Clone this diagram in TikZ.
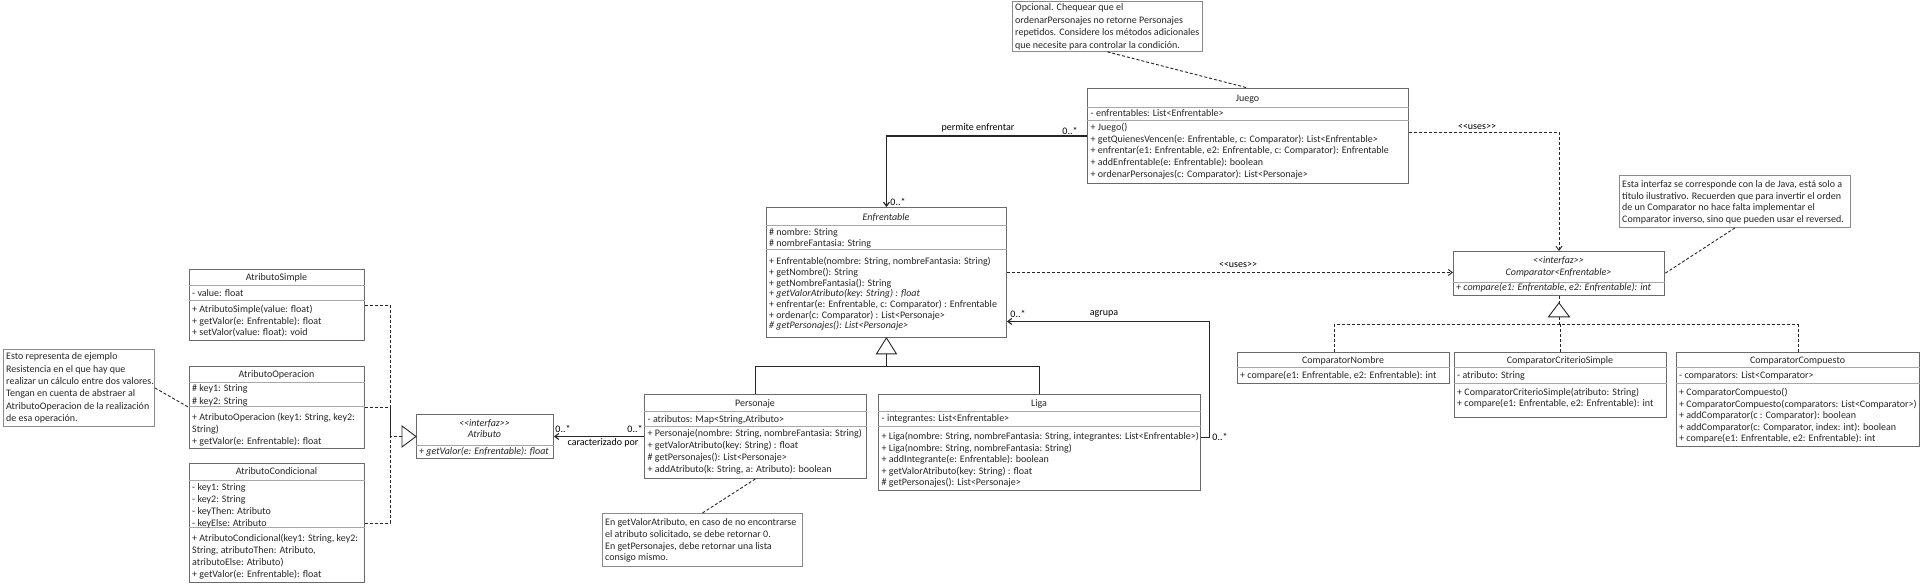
\documentclass[tikz,border=0pt]{standalone}
\usepackage{fontspec}
\setmainfont{Carlito}[Ligatures=TeXOff]
\usetikzlibrary{arrows.meta,calc}
\definecolor{boxline}{HTML}{6A6A6A}
\definecolor{sepcol}{HTML}{A8A8A8}
\definecolor{txtcol}{HTML}{262626}
\definecolor{notecol}{HTML}{8A8A8A}
\newcommand\ustrut{\rule{0pt}{8pt}}
\newcommand\ubox[6]{\node[#1, minimum width={(#5-#3)*1pt}, minimum height={(#6-#4)*1pt}] (#2) at (#3,#4) {};}
\newcommand\usep[2]{\draw[sepline] ([yshift=-#2pt]#1.north west) -- ([yshift=-#2pt]#1.north east);}
\tikzset{
  classbox/.style={draw=boxline, line width=0.9pt, fill=white, inner sep=0pt, anchor=north west},
  notebox/.style={draw=notecol, line width=0.9pt, fill=white, inner sep=0pt, anchor=north west},
  sepline/.style={draw=sepcol, line width=0.9pt},
  txtblock/.style={inner sep=0pt, anchor=north west, align=left, text=txtcol, font=\fontsize{10}{#1}\selectfont},
  ctrblock/.style={inner sep=0pt, anchor=north, align=center, text=txtcol, font=\fontsize{10}{#1}\selectfont},
  ttl/.style={inner sep=0pt, anchor=base, text=txtcol, font=\fontsize{10}{12}\selectfont},
  lbl/.style={inner sep=0pt, text=black, font=\fontsize{10}{12}\selectfont},
  assoc/.style={draw=black!85, line width=1.1pt, -{Straight Barb[length=4pt,width=6pt]}},
  plainline/.style={draw=black!85, line width=1.1pt},
  uses/.style={draw=black!85, line width=0.9pt, dash pattern=on 3pt off 2pt, -{Straight Barb[length=4pt,width=6pt]}},
  realiz/.style={draw=black!85, line width=0.9pt, dash pattern=on 3pt off 2pt},
  notelink/.style={draw=black!85, line width=0.9pt, dash pattern=on 3pt off 2pt},
  tri/.style={draw=black!85, line width=0.9pt, fill=white},
}
\begin{document}
\begin{tikzpicture}[x=1pt,y=-1pt]
\useasboundingbox (0,0) rectangle (1920,586);
\fill[white] (0,0) rectangle (1920,586);

% ---------- notes ----------
\ubox{notebox}{ntop}{1012}{1}{1202}{51}
\node[txtblock=12.5] (ntop-t) at (1015,2.5) {\ustrut Opcional. Chequear que el\\ordenarPersonajes no retorne Personajes\\repetidos. Considere los métodos adicionales\\que necesite para controlar la condición.};

\ubox{notebox}{nright}{1619}{175}{1850}{227}
\node[txtblock=11.5] (nright-t) at (1622,179.5) {\ustrut Esta interfaz se corresponde con la de Java, está solo a\\título ilustrativo. Recuerden que para invertir el orden\\de un Comparator no hace falta implementar el\\Comparator inverso, sino que pueden usar el reversed.};

\ubox{notebox}{nleft}{3}{349}{154}{426}
\node[txtblock=12.4] (nleft-t) at (6,351.5) {\ustrut Esto representa de ejemplo\\Resistencia en el que hay que\\realizar un cálculo entre dos valores.\\Tengan en cuenta de abstraer al\\AtributoOperacion de la realización\\de esa operación.};

\ubox{notebox}{nbot}{602}{513}{802}{566}
\node[txtblock=11.7] (nbot-t) at (605,517.5) {\ustrut En getValorAtributo, en caso de no encontrarse\\el atributo solicitado, se debe retornar 0.\\En getPersonajes, debe retornar una lista\\consigo mismo.};

% ---------- Juego ----------
\ubox{classbox}{juego}{1087}{88}{1408}{183}
\usep{juego}{19}\usep{juego}{32}
\node[ttl] (juego-n) at (1247.5,101.5) {Juego};
\node[txtblock=11] (juego-a) at (1090.5,108.5) {\ustrut - enfrentables: List<Enfrentable>};
\node[txtblock=11.6] (juego-o) at (1090.5,122.5) {\ustrut + Juego()\\+ getQuienesVencen(e: Enfrentable, c: Comparator): List<Enfrentable>\\+ enfrentar(e1: Enfrentable, e2: Enfrentable, c: Comparator): Enfrentable\\+ addEnfrentable(e: Enfrentable): boolean\\+ ordenarPersonajes(c: Comparator): List<Personaje>};

% ---------- Enfrentable ----------
\ubox{classbox}{enf}{766}{207}{1006}{337}
\usep{enf}{18}\usep{enf}{42}
\node[ttl] (enf-n) at (886,220.5) {\textit{Enfrentable}};
\node[txtblock=11] (enf-a) at (769,227.5) {\ustrut \# nombre: String\\\# nombreFantasia: String};
\node[txtblock=10.67] (enf-o) at (769,256.5) {\ustrut + Enfrentable(nombre: String, nombreFantasia: String)\\+ getNombre(): String\\+ getNombreFantasia(): String\\\textit{+ getValorAtributo(key: String) : float}\\+ enfrentar(e: Enfrentable, c: Comparator) : Enfrentable\\+ ordenar(c: Comparator) : List<Personaje>\\\textit{\# getPersonajes(): List<Personaje>}};

% ---------- Personaje ----------
\ubox{classbox}{pers}{644}{394}{866}{478}
\usep{pers}{17}\usep{pers}{32}
\node[ttl] (pers-n) at (755,406.5) {Personaje};
\node[txtblock=11] (pers-a) at (647.5,414.5) {\ustrut - atributos: Map<String,Atributo>};
\node[txtblock=12] (pers-o) at (647.5,428.5) {\ustrut + Personaje(nombre: String, nombreFantasia: String)\\+ getValorAtributo(key: String) : float\\\# getPersonajes(): List<Personaje>\\+ addAtributo(k: String, a: Atributo): boolean};

% ---------- Liga ----------
\ubox{classbox}{liga}{878}{394}{1200}{490}
\usep{liga}{17}\usep{liga}{32}
\node[ttl] (liga-n) at (1039,406.5) {Liga};
\node[txtblock=11] (liga-a) at (881.5,413.5) {\ustrut - integrantes: List<Enfrentable>};
\node[txtblock=11.5] (liga-o) at (881.5,431.5) {\ustrut + Liga(nombre: String, nombreFantasia: String, integrantes: List<Enfrentable>)\\+ Liga(nombre: String, nombreFantasia: String)\\+ addIntegrante(e: Enfrentable): boolean\\+ getValorAtributo(key: String) : float\\\# getPersonajes(): List<Personaje>};

% ---------- Atributo ----------
\ubox{classbox}{atr}{416}{414}{553}{458}
\usep{atr}{31}
\node[ctrblock=11] (atr-n) at (484.5,418.5) {\ustrut\textit{<<interfaz>>}\\\textit{Atributo}};
\node[txtblock=11] (atr-o) at (419,446.5) {\ustrut\textit{+ getValor(e: Enfrentable): float}};

% ---------- AtributoSimple ----------
\ubox{classbox}{asim}{189}{269}{364}{340}
\usep{asim}{16}\usep{asim}{31}
\node[ttl] (asim-n) at (276.5,280.5) {AtributoSimple};
\node[txtblock=11] (asim-a) at (192,288.5) {\ustrut - value: float};
\node[txtblock=11.5] (asim-o) at (192,304.5) {\ustrut + AtributoSimple(value: float)\\+ getValor(e: Enfrentable): float\\+ setValor(value: float): void};

% ---------- AtributoOperacion ----------
\ubox{classbox}{aop}{189}{366}{364}{448}
\usep{aop}{16}\usep{aop}{40}
\node[ttl] (aop-n) at (276.5,377.5) {AtributoOperacion};
\node[txtblock=12.5] (aop-a) at (192,383.5) {\ustrut \# key1: String\\\# key2: String};
\node[txtblock=12] (aop-o) at (192,412.5) {\ustrut + AtributoOperacion (key1: String, key2:\\String)\\+ getValor(e: Enfrentable): float};

% ---------- AtributoCondicional ----------
\ubox{classbox}{acond}{189}{463}{364}{582}
\usep{acond}{17}\usep{acond}{64}
\node[ttl] (acond-n) at (276.5,474.5) {AtributoCondicional};
\node[txtblock=12] (acond-a) at (192,482.5) {\ustrut - key1: String\\- key2: String\\- keyThen: Atributo\\- keyElse: Atributo};
\node[txtblock=12] (acond-o) at (192,533.5) {\ustrut + AtributoCondicional(key1: String, key2:\\String, atributoThen: Atributo,\\atributoElse: Atributo)\\+ getValor(e: Enfrentable): float};

% ---------- Comparator ----------
\ubox{classbox}{comp}{1453}{251}{1664}{295}
\usep{comp}{31}
\node[ctrblock=12] (comp-n) at (1558.5,255.5) {\ustrut\textit{<<interfaz>>}\\\textit{Comparator<Enfrentable>}};
\node[txtblock=11] (comp-o) at (1456,282.5) {\ustrut\textit{+ compare(e1: Enfrentable, e2: Enfrentable): int}};

% ---------- ComparatorNombre ----------
\ubox{classbox}{cnom}{1237}{352}{1449}{383}
\usep{cnom}{15}
\node[ttl] (cnom-n) at (1343,363.5) {ComparatorNombre};
\node[txtblock=11] (cnom-o) at (1240,370.5) {\ustrut + compare(e1: Enfrentable, e2: Enfrentable): int};

% ---------- ComparatorCriterioSimple ----------
\ubox{classbox}{ccrit}{1454}{352}{1666}{417}
\usep{ccrit}{15}\usep{ccrit}{31}
\node[ttl] (ccrit-n) at (1560,363.5) {ComparatorCriterioSimple};
\node[txtblock=11] (ccrit-a) at (1457,370.5) {\ustrut - atributo: String};
\node[txtblock=11] (ccrit-o) at (1457,387.5) {\ustrut + ComparatorCriterioSimple(atributo: String)\\+ compare(e1: Enfrentable, e2: Enfrentable): int};

% ---------- ComparatorCompuesto ----------
\ubox{classbox}{ccomp}{1676}{352}{1919}{446}
\usep{ccomp}{15}\usep{ccomp}{31}
\node[ttl] (ccomp-n) at (1797.5,363.5) {ComparatorCompuesto};
\node[txtblock=11] (ccomp-a) at (1679,370.5) {\ustrut - comparators: List<Comparator>};
\node[txtblock=11.5] (ccomp-o) at (1679,387.5) {\ustrut + ComparatorCompuesto()\\+ ComparatorCompuesto(comparators: List<Comparator>)\\+ addComparator(c : Comparator): boolean\\+ addComparator(c: Comparator, index: int): boolean\\+ compare(e1: Enfrentable, e2: Enfrentable): int};

% ---------- associations ----------
\draw[assoc] (juego.west) -| (enf.north);
\draw[assoc] ([yshift=5pt]liga.east) -- ++(9,0) |- ([yshift=-49pt]enf.east);
\draw[assoc] (pers.west) -- (atr.east);

% ---------- generalization Enfrentable ----------
\coordinate (gj) at ([yshift=-29pt]enf.south);
\draw[plainline] ([yshift=-16pt]enf.south) -- (gj);
\draw[plainline] (gj) -| (pers.north);
\draw[plainline] (gj) -| (liga.north);
\draw[tri] (enf.south) -- ++(-10,16) -- ++(20,0) -- cycle;

% ---------- realization Atributo ----------
\coordinate (rj) at ([xshift=-26pt]atr.west);
\draw[realiz] ([xshift=-14pt]atr.west) -- (rj);
\draw[realiz] (asim.east) -| (rj);
\draw[realiz] (aop.east) -| (rj);
\draw[realiz] (acond.east) -| (rj);
\draw[tri] (atr.west) -- ++(-14,-10.5) -- ++(0,21) -- cycle;

% ---------- realization Comparator ----------
\coordinate (cj) at ([yshift=-29pt]comp.south);
\draw[realiz] (comp.south) -- ++(0,7);
\draw[realiz] ([yshift=-21pt]comp.south) -- (cj);
\draw[realiz] ([xshift=-9pt]cnom.north) |- (cj);
\draw[realiz] (ccrit.north) |- (cj);
\draw[realiz] (ccomp.north) |- (cj);
\draw[tri] ([yshift=-7pt]comp.south) -- ++(-10.5,14) -- ++(21,0) -- cycle;

% ---------- uses ----------
\draw[uses] ([yshift=3.5pt]juego.east) -| (comp.north);
\draw[uses] (enf.east) -- (enf.east -| comp.west);

% ---------- note links ----------
\draw[notelink] (ntop.south) -- (juego.north);
\draw[notelink] (nright.south) -- (comp.east);
\draw[notelink] (nleft.east) -- (aop.west);
\draw[notelink] (nbot.north) -- (pers.south);

% ---------- labels ----------
\node[lbl] (l-permite) at (978,128) {permite enfrentar};
\node[lbl] (l-m1) at (1070,131) {0..*};
\node[lbl] (l-m2) at (898,202) {0..*};
\node[lbl] (l-agrupa) at (1104,314) {agrupa};
\node[lbl] (l-m3) at (1018,314) {0..*};
\node[lbl] (l-m4) at (1220,437) {0..*};
\node[lbl] (l-car) at (603,443) {caracterizado por};
\node[lbl] (l-m5) at (563,429) {0..*};
\node[lbl] (l-m6) at (635,429) {0..*};
\node[lbl] (l-uses1) at (1477,127) {<<uses>>};
\node[lbl] (l-uses2) at (1238,265) {<<uses>>};
\end{tikzpicture}
\end{document}
